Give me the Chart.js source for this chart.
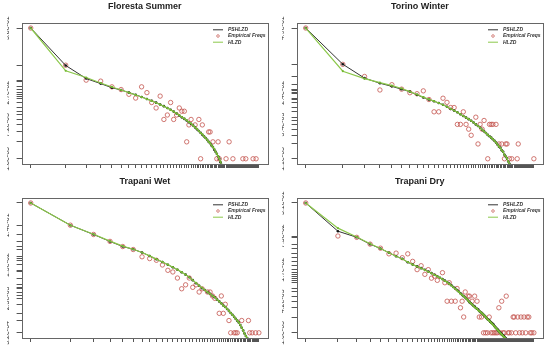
<!DOCTYPE html>
<html>
<head>
<meta charset="utf-8">
<script src="https://cdn.jsdelivr.net/npm/chart.js@4.4.0/dist/chart.umd.min.js"></script>
<style>
  body { margin: 0; background: #fff; width: 550px; height: 348px; position: relative; overflow: hidden; }
  canvas { position: absolute; }
</style>
</head>
<body>
<canvas id="floSummer" width="275" height="174" style="left:0;top:0"></canvas>
<canvas id="torWinter" width="275" height="174" style="left:275px;top:0"></canvas>
<canvas id="trapWet" width="275" height="173" style="left:0;top:175px"></canvas>
<canvas id="trapDry" width="275" height="173" style="left:275px;top:175px"></canvas>
<script>
/* Floresta Summer */
const floSummerPSHLZD = [0.38, 0.082, 0.048, 0.039, 0.033, 0.030, 0.027, 0.0247, 0.0226, 0.0208, 0.0193, 0.0179, 0.0166, 0.0155, 0.0144, 0.0134, 0.0124, 0.0115, 0.0106, 0.0098, 0.0092, 0.0086, 0.0080, 0.0075, 0.0070, 0.0065, 0.0060, 0.0056, 0.0052, 0.0048, 0.0045, 0.0042, 0.0039, 0.0036, 0.0034, 0.0031, 0.0029, 0.0026, 0.0024, 0.0022, 0.0020, 0.0018, 0.00156, 0.0014, 0.0012, 0.0011, 0.00095];
const floSummerHLZD = [0.38, 0.066, 0.050, 0.040, 0.034, 0.030, 0.027, 0.0245, 0.0225, 0.0207, 0.0192, 0.0178, 0.0165, 0.0154, 0.0143, 0.0133, 0.0124, 0.0115, 0.0107, 0.0099, 0.0093, 0.0087, 0.0081, 0.0076, 0.0070, 0.0065, 0.0061, 0.0056, 0.0052, 0.0049, 0.0045, 0.0042, 0.0039, 0.0036, 0.0034, 0.0031, 0.0029, 0.0027, 0.0024, 0.0022, 0.0020, 0.0018, 0.0016, 0.0014, 0.0012, 0.0011, 0.00095];
const floSummerEmpX = [1, 2, 3, 4, 5, 6, 7, 8, 9, 10, 11, 12, 13, 14, 15, 16, 17, 18, 19, 20, 21, 22, 23, 24, 26, 28, 29, 30, 34, 35, 37, 40, 41, 42, 48, 51, 55, 67, 71, 82, 87];
const floSummerEmpCount = [211, 46, 25, 24, 19, 17, 14, 12, 19, 15, 10, 8, 13, 5, 6, 10, 5, 6, 8, 7, 7, 2, 4, 5, 4, 5, 1, 4, 3, 3, 2, 1, 2, 1, 1, 2, 1, 1, 1, 1, 1];
const floSummerTotal = 556;
const floSummerXMax = 92;
const floSummerYLabels = [0.38, 0.027, 0.0072, 0.0018];

/* Torino Winter */
const torWinterPSHLZD = [0.49, 0.090, 0.047, 0.037, 0.032, 0.028, 0.025, 0.0215, 0.019, 0.0172, 0.0159, 0.0147, 0.0135, 0.0123, 0.0111, 0.0103, 0.0095, 0.0087, 0.0080, 0.0074, 0.0069, 0.0064, 0.0059, 0.0054, 0.0050, 0.0046, 0.0042, 0.0039, 0.0036, 0.0033, 0.0031, 0.0029, 0.0027, 0.0025, 0.0023, 0.0021, 0.0019, 0.0018, 0.0016, 0.0015, 0.0013, 0.0012, 0.0011, 0.00095, 0.00085];
const torWinterHLZD = [0.49, 0.065, 0.046, 0.038, 0.033, 0.029, 0.025, 0.0218, 0.0193, 0.0174, 0.016, 0.0147, 0.0135, 0.0123, 0.0112, 0.0103, 0.0095, 0.0087, 0.0080, 0.0074, 0.0069, 0.0064, 0.0059, 0.0054, 0.0050, 0.0046, 0.0042, 0.0039, 0.0036, 0.0033, 0.0031, 0.0029, 0.0027, 0.0025, 0.0023, 0.0021, 0.0019, 0.0018, 0.0016, 0.0015, 0.0013, 0.0012, 0.0011, 0.00095, 0.00085];
const torWinterEmpX = [1, 2, 3, 4, 5, 6, 7, 8, 9, 10, 11, 12, 13, 14, 15, 16, 17, 18, 19, 20, 21, 22, 24, 25, 26, 27, 28, 30, 31, 32, 33, 35, 37, 39, 41, 42, 43, 45, 47, 52, 53, 71];
const torWinterEmpCount = [454, 83, 47, 25, 32, 26, 22, 21, 24, 16, 9, 9, 17, 14, 11, 11, 5, 5, 9, 5, 4, 3, 7, 2, 5, 4, 6, 1, 5, 5, 5, 5, 2, 2, 1, 2, 2, 1, 1, 1, 2, 1];
const torWinterTotal = 926;
const torWinterXMax = 71;
const torWinterYLabels = [0.49, 0.024, 0.0054, 0.0011];

/* Trapani Wet */
const trapWetPSHLZD = [0.49, 0.14, 0.083, 0.056, 0.042, 0.036, 0.030, 0.0247, 0.0205, 0.0175, 0.0150, 0.0130, 0.0113, 0.0098, 0.0086, 0.0074, 0.0063, 0.0053, 0.0046, 0.0040, 0.0036, 0.0032, 0.0029, 0.0026, 0.0024, 0.0021, 0.0019, 0.0017, 0.0015, 0.00138, 0.00124, 0.00111, 0.00099, 0.00089, 0.00080, 0.00071, 0.00064, 0.00058, 0.00050, 0.00043, 0.00037, 0.00031, 0.00027, 0.00024];
const trapWetHLZD = [0.49, 0.14, 0.084, 0.057, 0.043, 0.036, 0.030, 0.0248, 0.0206, 0.0176, 0.0151, 0.0131, 0.0114, 0.0099, 0.0086, 0.0074, 0.0063, 0.0054, 0.0046, 0.0041, 0.0036, 0.0032, 0.0029, 0.0026, 0.0024, 0.0021, 0.0019, 0.0017, 0.0015, 0.00138, 0.00124, 0.00111, 0.00099, 0.00089, 0.00080, 0.00071, 0.00064, 0.00058, 0.00050, 0.00043, 0.00037, 0.00031, 0.00027, 0.00024];
const trapWetEmpX = [1, 2, 3, 4, 5, 6, 7, 8, 9, 10, 11, 12, 13, 14, 15, 16, 17, 18, 19, 20, 22, 23, 24, 25, 27, 28, 29, 30, 32, 33, 35, 36, 37, 40, 45, 46, 48, 51, 54];
const trapWetEmpCount = [1519, 434, 257, 174, 130, 110, 73, 66, 60, 46, 34, 31, 22, 12, 15, 22, 13, 15, 10, 12, 10, 10, 8, 7, 3, 8, 3, 5, 2, 1, 1, 1, 1, 2, 2, 1, 1, 1, 1];
const trapWetTotal = 3100;
const trapWetXMax = 54;
const trapWetYLabels = [0.14, 0.015, 0.0023, 0.00032];

/* Trapani Dry */
const trapDryPSHLZD = [0.31, 0.090, 0.069, 0.051, 0.042, 0.035, 0.030, 0.0268, 0.023, 0.0208, 0.0192, 0.0178, 0.0165, 0.0153, 0.0143, 0.0133, 0.0125, 0.0117, 0.0110, 0.0103, 0.0097, 0.0090, 0.0084, 0.0078, 0.0073, 0.0068, 0.0064, 0.0059, 0.0055, 0.0052, 0.0049, 0.0046, 0.0043, 0.0040, 0.0038, 0.0036, 0.0034, 0.0033, 0.0031, 0.0030, 0.0029, 0.0027, 0.0026, 0.0025, 0.0024, 0.0023, 0.0022, 0.0021, 0.0020, 0.0019, 0.00185, 0.0018, 0.0017, 0.00165, 0.0016, 0.00155, 0.0015, 0.0014, 0.00135, 0.0013, 0.00126, 0.00122, 0.00117, 0.00112, 0.00108, 0.00104, 0.00101, 0.00098, 0.00095, 0.00092, 0.0009, 0.00087, 0.00084, 0.00082, 0.0008];
const trapDryHLZD = [0.31, 0.103, 0.070, 0.052, 0.042, 0.035, 0.030, 0.0266, 0.0232, 0.0208, 0.0191, 0.0177, 0.0164, 0.0152, 0.0142, 0.0132, 0.0124, 0.0116, 0.0109, 0.0102, 0.0096, 0.0089, 0.0083, 0.0077, 0.0072, 0.0067, 0.0063, 0.0058, 0.0055, 0.0052, 0.0049, 0.0046, 0.0043, 0.0040, 0.0038, 0.0036, 0.0034, 0.0032, 0.0031, 0.0030, 0.0028, 0.0027, 0.0026, 0.0025, 0.0024, 0.0023, 0.0022, 0.0021, 0.0020, 0.0019, 0.00183, 0.00176, 0.0017, 0.00163, 0.00157, 0.00151, 0.00145, 0.0014, 0.00134, 0.00129, 0.00124, 0.0012, 0.00115, 0.00111, 0.00107, 0.00103, 0.001, 0.00097, 0.00094, 0.00091, 0.00088, 0.00086, 0.00083, 0.00081, 0.00079];
const trapDryEmpX = [1, 2, 3, 4, 5, 6, 7, 8, 9, 10, 11, 12, 13, 14, 15, 16, 17, 19, 20, 21, 22, 23, 25, 26, 28, 29, 30, 31, 33, 34, 36, 38, 40, 42, 44, 46, 48, 50, 52, 54, 56, 58, 60, 62, 64, 66, 68, 70, 72, 75, 78, 80, 84, 87, 89, 92, 96, 100, 103, 106, 110, 114, 118, 122, 126, 130, 136];
const trapDryEmpCount = [298, 70, 66, 49, 41, 32, 33, 27, 32, 23, 16, 19, 13, 16, 11, 12, 10, 14, 9, 4, 9, 4, 4, 7, 3, 4, 2, 6, 5, 5, 4, 5, 4, 2, 2, 1, 1, 1, 2, 1, 1, 1, 1, 1, 3, 1, 4, 1, 1, 5, 1, 1, 1, 2, 2, 1, 2, 1, 2, 1, 2, 1, 2, 2, 1, 1, 1];
const trapDryTotal = 960;
const trapDryXMax = 136;
const trapDryYLabels = [0.31, 0.073, 0.017, 0.0042, 0.001];

// R style "3.8e-01"
function sci(v) {
  return v.toExponential(1).replace(/e([+-])(\d)$/, (m, s, d) => 'e' + s + '0' + d);
}

// full box round the plot region
const boxPlugin = {
  id: 'box',
  afterDraw(chart) {
    const { ctx, chartArea: a } = chart;
    ctx.save();
    ctx.strokeStyle = '#666';
    ctx.lineWidth = 1;
    ctx.strokeRect(Math.round(a.left) + 0.5, Math.round(a.top) + 0.5, Math.round(a.width), Math.round(a.height));
    ctx.restore();
  }
};

// legend in the top right corner, like legend("topright") in R
const cornerLegend = {
  id: 'cornerLegend',
  afterDraw(chart) {
    const { ctx, chartArea: a } = chart;
    const order = [1, 2, 0];
    ctx.save();
    ctx.font = 'italic bold 5px "Liberation Sans", Arial, sans-serif';
    ctx.textBaseline = 'middle';
    ctx.fillStyle = '#333';
    order.forEach((di, row) => {
      const ds = chart.data.datasets[di];
      const y = a.top + 7 + row * 6.2;
      if (ds.showLine === false) {
        ctx.strokeStyle = ds.pointBorderColor;
        ctx.lineWidth = 0.7;
        ctx.beginPath();
        ctx.arc(a.right - 50, y, 1.3, 0, Math.PI * 2);
        ctx.stroke();
      } else {
        ctx.strokeStyle = ds.borderColor;
        ctx.lineWidth = 1;
        ctx.beginPath();
        ctx.moveTo(a.right - 55, y);
        ctx.lineTo(a.right - 45, y);
        ctx.stroke();
      }
      ctx.fillText(ds.label, a.right - 40, y);
    });
    ctx.restore();
  }
};

function panel(id, title, ps, hl, empX, empCount, total, xMax, yLabels) {
  const toPts = arr => arr.map((v, i) => ({ x: i + 1, y: v }));
  const emp = empX.map((x, i) => ({ x: x, y: empCount[i] / total }));
  const freqs = emp.map(p => p.y);
  const lo = Math.log(Math.min(...freqs));
  const hi = Math.log(Math.max(...freqs));
  const ySpan = hi - lo;
  const xSpan = Math.log(xMax);
  const yTicks = [...new Set(freqs)].sort((a, b) => a - b);
  const xTicks = Array.from({ length: xMax }, (_, i) => i + 1);
  const shown = yLabels.map(sci);

  new Chart(document.getElementById(id), {
    type: 'line',
    data: {
      datasets: [
        {
          label: 'HLZD', data: toPts(hl),
          borderColor: '#8cc84b', borderWidth: 1.2,
          pointRadius: 1.1, pointBackgroundColor: '#74b832', pointBorderWidth: 0
        },
        {
          label: 'PSHLZD', data: toPts(ps),
          borderColor: '#333', borderWidth: 1,
          pointRadius: 1.3, pointBackgroundColor: '#111', pointBorderWidth: 0
        },
        {
          label: 'Empirical Freqs', data: emp, showLine: false,
          pointRadius: 2.2, pointBorderColor: '#c4544e', pointBorderWidth: 0.8,
          pointBackgroundColor: 'rgba(0,0,0,0)'
        }
      ]
    },
    options: {
      responsive: false,
      devicePixelRatio: 1,
      animation: false,
      events: [],
      layout: { padding: { top: 1, left: 7, right: 7, bottom: 6 } },
      plugins: {
        legend: { display: false },
        tooltip: { enabled: false },
        title: {
          display: true, text: title, fullSize: false, color: '#222',
          font: { family: '"Liberation Sans", Arial, sans-serif', size: 9, weight: 'bold' },
          padding: { top: 0, bottom: 11 }
        }
      },
      scales: {
        x: {
          type: 'logarithmic',
          min: Math.exp(-0.04 * xSpan),
          max: Math.exp(1.04 * xSpan),
          afterBuildTicks: ax => { ax.ticks = xTicks.map(v => ({ value: v })); },
          ticks: { display: false, autoSkip: false },
          grid: { drawOnChartArea: false, tickLength: 4, color: '#555' },
          border: { display: false }
        },
        y: {
          type: 'logarithmic',
          min: Math.exp(lo - 0.04 * ySpan),
          max: Math.exp(hi + 0.04 * ySpan),
          afterBuildTicks: ax => { ax.ticks = yTicks.map(v => ({ value: v })); },
          ticks: {
            autoSkip: false, minRotation: 90, maxRotation: 90,
            crossAlign: 'far', labelOffset: 12, padding: 0.6,
            color: '#333',
            font: { family: '"Liberation Sans", Arial, sans-serif', size: 7 },
            callback: v => (shown.includes(sci(v)) ? sci(v) : '')
          },
          grid: { drawOnChartArea: false, tickLength: 5, color: '#555' },
          border: { display: false }
        }
      }
    },
    plugins: [boxPlugin, cornerLegend]
  });
}

panel('floSummer', 'Floresta Summer', floSummerPSHLZD, floSummerHLZD, floSummerEmpX, floSummerEmpCount, floSummerTotal, floSummerXMax, floSummerYLabels);
panel('torWinter', 'Torino Winter', torWinterPSHLZD, torWinterHLZD, torWinterEmpX, torWinterEmpCount, torWinterTotal, torWinterXMax, torWinterYLabels);
panel('trapWet', 'Trapani Wet', trapWetPSHLZD, trapWetHLZD, trapWetEmpX, trapWetEmpCount, trapWetTotal, trapWetXMax, trapWetYLabels);
panel('trapDry', 'Trapani Dry', trapDryPSHLZD, trapDryHLZD, trapDryEmpX, trapDryEmpCount, trapDryTotal, trapDryXMax, trapDryYLabels);
</script>
</body>
</html>
